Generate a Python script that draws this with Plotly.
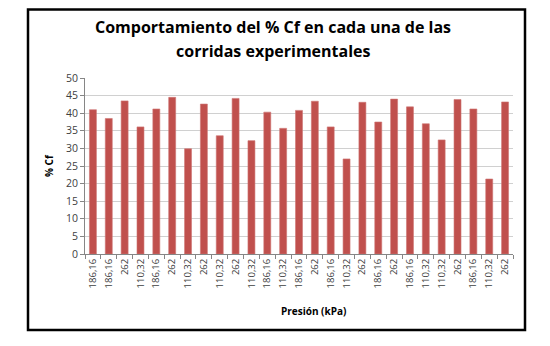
import plotly.graph_objects as go

presion = ["186,16", "186,16", "262", "110,32", "186,16", "262", "110,32", "262", "110,32",
           "262", "110,32", "186,16", "110,32", "186,16", "262", "186,16", "110,32", "262",
           "186,16", "262", "186,16", "110,32", "110,32", "262", "186,16", "110,32", "262"]
cf = [41.0, 38.5, 43.5, 36.1, 41.2, 44.5, 29.9, 42.6, 33.6,
      44.2, 32.2, 40.3, 35.7, 40.8, 43.4, 36.1, 27.0, 43.1,
      37.5, 44.0, 41.8, 37.0, 32.4, 43.9, 41.2, 21.3, 43.2]
y_ticks = [0, 5, 10, 15, 20, 25, 30, 35, 40, 45, 50]

idx = list(range(len(cf)))
OFF = 8  # page body margin
W, H = 550 - 2 * OFF, 346 - 2 * OFF
L, T = 85 - OFF, 78 - OFF
R = W - (513 - OFF)
B = H - (254 - OFF)
pw, ph = W - L - R, H - T - B

def px(x):
    return (x - OFF - L) / pw

def py(y):
    return (H - B - (y - OFF)) / ph

fig = go.Figure(go.Bar(
    x=idx, y=cf,
    marker=dict(color="#C0504D", line=dict(color="#CF7573", width=0.6)),
    width=0.44,
))

font = "Open Sans"
fig.update_layout(
    width=W, height=H,
    margin=dict(l=L, r=R, t=T, b=B),
    paper_bgcolor="white", plot_bgcolor="white",
    showlegend=False,
    font=dict(family=font, color="#404040", size=10),
    xaxis=dict(
        range=[-0.5, len(cf) - 0.5],
        tickmode="array", tickvals=idx, ticktext=presion,
        tickangle=-90, ticks="", showgrid=False,
        showline=True, linecolor="#868686", linewidth=1,
        tickfont=dict(size=9.5, color="#404040"),
        minor=dict(ticks="outside", tick0=0.5, dtick=1, ticklen=4, tickcolor="#868686", showgrid=False),
        zeroline=False,
    ),
    yaxis=dict(
        range=[0, 50], tickvals=y_ticks,
        ticks="outside", ticklen=4, tickcolor="#868686",
        showline=True, linecolor="#868686", linewidth=1,
        showgrid=True, gridcolor="#D0D0D0", gridwidth=1,
        zeroline=False,
        tickfont=dict(size=10.5, color="#404040"),
    ),
    annotations=[
        dict(text="<b>Comportamiento del % Cf en cada una de las</b>",
             x=px(273), y=py(27), xref="paper", yref="paper", showarrow=False,
             xanchor="center", yanchor="middle",
             font=dict(family=font, size=16, color="black")),
        dict(text="<b>corridas experimentales</b>",
             x=px(273), y=py(51), xref="paper", yref="paper", showarrow=False,
             xanchor="center", yanchor="middle",
             font=dict(family=font, size=16, color="black")),
        dict(text="<b>% Cf</b>", x=px(49), y=py(166), xref="paper", yref="paper",
             xanchor="center", yanchor="middle",
             showarrow=False, textangle=-90, font=dict(family=font, size=10, color="black")),
        dict(text="<b>Presión (kPa)</b>", x=px(313), y=py(311), xref="paper", yref="paper",
             xanchor="center", yanchor="middle",
             showarrow=False, font=dict(family=font, size=10, color="black")),
    ],
    shapes=[
        dict(type="rect", xref="paper", yref="paper",
             x0=px(28), x1=px(525), y0=py(330), y1=py(9.5),
             line=dict(color="black", width=2.5)),
    ],
)

fig.write_html("out.html")
